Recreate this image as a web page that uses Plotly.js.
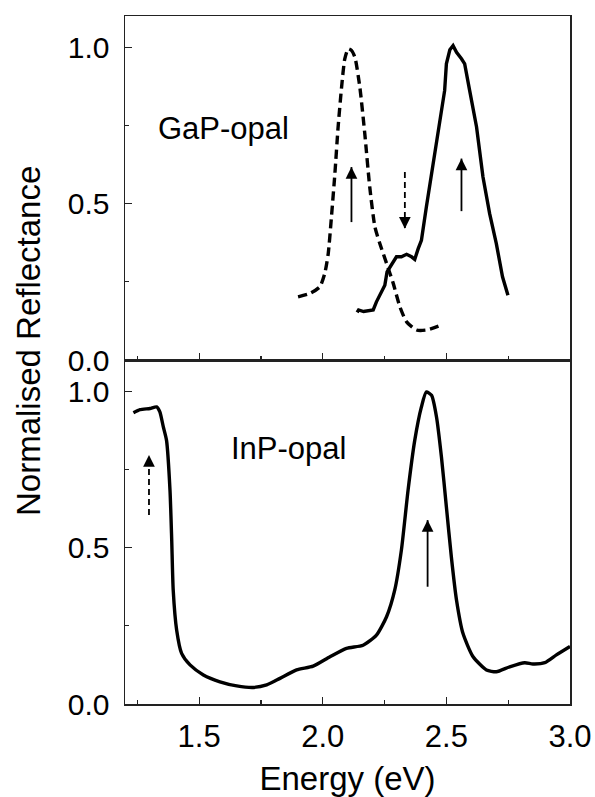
<!DOCTYPE html>
<html>
<head>
<meta charset="utf-8">
<script src="https://cdn.plot.ly/plotly-3.0.1.min.js"></script>
<style>html,body{margin:0;padding:0;background:#fff;}#chart{width:595px;height:797px;}</style>
</head>
<body>
<div id="chart"></div>
<script>
// GaP-opal, dashed spectrum
const gapDashE = [1.900,1.948,1.988,2.008,2.022,2.035,2.049,2.062,2.076,2.089,2.103,2.116,2.130,2.150,2.170,2.190,2.211,2.231,2.258,2.285,2.312,2.339,2.379,2.420,2.480];
const gapDashR = [0.202,0.213,0.234,0.277,0.340,0.457,0.596,0.745,0.872,0.963,0.995,0.990,0.968,0.872,0.723,0.553,0.425,0.372,0.309,0.245,0.170,0.122,0.096,0.096,0.112];
// GaP-opal, solid spectrum
const gapSolidE = [2.139,2.145,2.165,2.184,2.204,2.217,2.238,2.251,2.260,2.278,2.298,2.318,2.339,2.359,2.372,2.386,2.399,2.419,2.440,2.460,2.480,2.493,2.500,2.514,2.527,2.541,2.561,2.574,2.594,2.622,2.648,2.675,2.702,2.727,2.749];
const gapSolidR = [0.152,0.160,0.155,0.157,0.160,0.186,0.218,0.239,0.282,0.303,0.330,0.330,0.338,0.330,0.322,0.356,0.383,0.489,0.596,0.692,0.798,0.862,0.947,0.992,1.005,0.984,0.963,0.947,0.862,0.745,0.585,0.468,0.372,0.266,0.207];
// InP-opal spectrum
const inpE = [1.234,1.261,1.301,1.328,1.341,1.355,1.368,1.382,1.389,1.395,1.409,1.429,1.463,1.517,1.584,1.652,1.719,1.773,1.827,1.894,1.961,2.029,2.096,2.163,2.217,2.258,2.291,2.318,2.345,2.372,2.399,2.419,2.440,2.460,2.480,2.500,2.520,2.541,2.567,2.608,2.662,2.702,2.756,2.817,2.850,2.898,2.945,3.000];
const inpR = [0.931,0.941,0.945,0.950,0.934,0.886,0.843,0.684,0.524,0.364,0.236,0.162,0.125,0.093,0.071,0.058,0.053,0.061,0.082,0.109,0.121,0.151,0.178,0.188,0.220,0.279,0.364,0.492,0.684,0.843,0.950,0.998,0.987,0.918,0.790,0.630,0.471,0.332,0.226,0.151,0.109,0.103,0.119,0.132,0.128,0.132,0.157,0.184];

// Marker arrows (panel: 'top' or 'bottom')
const arrowPanel = ['top','top','top','bottom','bottom'];
const arrowE     = [2.116, 2.332, 2.561, 1.297, 2.424];
const arrowTail  = [0.441, 0.601, 0.476, 0.604, 0.375];
const arrowTip   = [0.617, 0.420, 0.644, 0.796, 0.588];
const arrowDash  = [false, true, false, true, false];

// Panel labels
const labelText  = ['GaP-opal', 'InP-opal'];
const labelPanel = ['top', 'bottom'];
const labelE     = [1.598, 1.863];
const labelR     = [0.74, 0.818];

const FONT = 'Liberation Sans, Arial, Helvetica, sans-serif';
const FS = 31;
const TFS = 30;
const AXC = '#222';

const traces = [
  {x: gapDashE, y: gapDashR, xaxis: 'x2', yaxis: 'y2', mode: 'lines',
   line: {color: '#000', width: 3.4, dash: '9px,5px', shape: 'spline', smoothing: 0.6}},
  {x: gapSolidE, y: gapSolidR, xaxis: 'x2', yaxis: 'y2', mode: 'lines',
   line: {color: '#000', width: 3.4}},
  {x: inpE, y: inpR, xaxis: 'x', yaxis: 'y', mode: 'lines',
   line: {color: '#000', width: 3.4, shape: 'spline', smoothing: 0.6}}
];

const shapes = [];
const annotations = [];
for (let i = 0; i < arrowE.length; i++) {
  const top = arrowPanel[i] === 'top';
  const xr = top ? 'x2' : 'x', yr = top ? 'y2' : 'y';
  shapes.push({type: 'line', xref: xr, yref: yr,
    x0: arrowE[i], x1: arrowE[i], y0: arrowTail[i], y1: arrowTip[i],
    line: {color: '#000', width: 1.8, dash: arrowDash[i] ? '6px,4px' : 'solid'}});
  const up = arrowTip[i] > arrowTail[i];
  annotations.push({xref: xr, yref: yr, x: arrowE[i], y: arrowTip[i],
    ax: 0, ay: up ? 8 : -8, text: '', showarrow: true,
    arrowhead: 2, arrowsize: 1.3, arrowwidth: 1.8, arrowcolor: '#000'});
}
for (let i = 0; i < labelText.length; i++) {
  const top = labelPanel[i] === 'top';
  annotations.push({xref: top ? 'x2' : 'x', yref: top ? 'y2' : 'y',
    x: labelE[i], y: labelR[i], text: labelText[i], showarrow: false,
    font: {family: FONT, size: FS, color: '#000'}});
}
annotations.push({xref: 'paper', yref: 'paper', x: -0.218, y: 0.5276,
  text: 'Normalised Reflectance', textangle: -90, showarrow: false,
  xanchor: 'center', yanchor: 'middle',
  font: {family: FONT, size: FS + 2, color: '#000'}});

const xCommon = {
  range: [1.2, 3.0], tickvals: [1.5, 2.0, 2.5, 3.0], ticktext: ['1.5','2.0','2.5','3.0'],
  ticks: 'inside', ticklen: 7, tickwidth: 1.3, tickcolor: AXC,
  minor: {tickvals: [1.25, 1.75, 2.25, 2.75], ticks: 'inside', ticklen: 4, tickwidth: 1.3, tickcolor: AXC},
  showline: true, linecolor: AXC, linewidth: 1.5, mirror: true,
  showgrid: false, zeroline: false,
  tickfont: {family: FONT, size: FS, color: '#000'}
};
const yCommon = {
  range: [0, 1.1], tickvals: [0, 0.5, 1.0], ticktext: ['0.0','0.5','1.0'],
  ticks: 'inside', ticklen: 7, tickwidth: 1.3, tickcolor: AXC,
  minor: {tickvals: [0.25, 0.75], ticks: 'inside', ticklen: 4, tickwidth: 1.3, tickcolor: AXC},
  showline: true, linecolor: AXC, linewidth: 1.5, mirror: true,
  showgrid: false, zeroline: false, ticklabelstandoff: 8,
  tickfont: {family: FONT, size: TFS, color: '#000'}
};

const layout = {
  width: 595, height: 797,
  margin: {l: 125, r: 25, t: 16, b: 93},
  paper_bgcolor: '#fff', plot_bgcolor: '#fff',
  showlegend: false,
  xaxis: Object.assign({}, xCommon, {anchor: 'y', ticklabelstandoff: 4,
    title: {text: 'Energy (eV)', font: {family: FONT, size: FS + 2, color: '#000'}, standoff: 14}}),
  yaxis: Object.assign({}, yCommon, {domain: [0, 0.5], anchor: 'x'}),
  xaxis2: Object.assign({}, xCommon, {anchor: 'y2', matches: 'x', showticklabels: false}),
  yaxis2: Object.assign({}, yCommon, {domain: [0.5, 1], anchor: 'x2'}),
  shapes: shapes,
  annotations: annotations
};

Plotly.newPlot('chart', traces, layout, {displayModeBar: false, staticPlot: true});
</script>
</body>
</html>
